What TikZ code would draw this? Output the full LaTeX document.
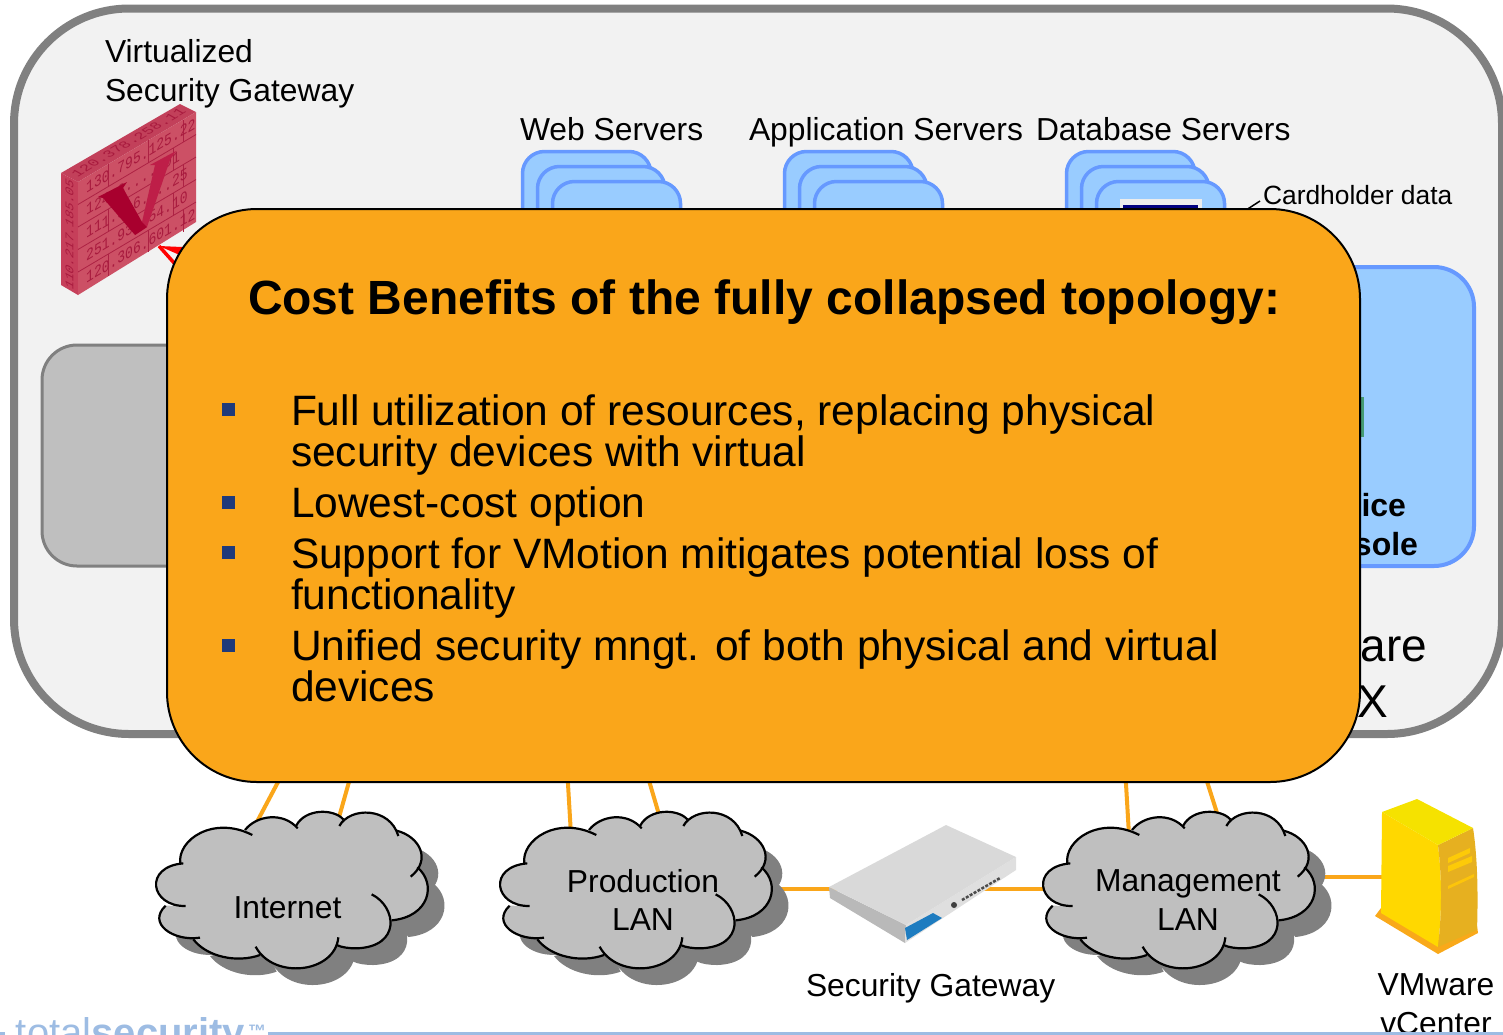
\documentclass[tikz,border=0pt]{standalone}
\usepackage{fontspec}
\setmainfont{Liberation Sans}
\newfontfamily\monofam{Liberation Mono}
\definecolor{frameGray}{HTML}{808080}
\definecolor{panelGray}{HTML}{F2F2F2}
\definecolor{midGray}{HTML}{BFBFBF}
\definecolor{skyFill}{HTML}{99CCFF}
\definecolor{skyLine}{HTML}{6699FF}
\definecolor{orangeBox}{HTML}{FAA61A}
\definecolor{bulletBlue}{HTML}{1F3A7A}
\definecolor{logoBlue}{HTML}{9DBCE3}
\definecolor{fwFront}{HTML}{CC5065}
\definecolor{fwTop}{HTML}{C2405A}
\definecolor{fwSide}{HTML}{C63F5A}
\definecolor{fwMark}{HTML}{A81A3E}
\definecolor{fwV}{HTML}{A8002E}
\definecolor{fwVlight}{HTML}{BE1E48}
\newcommand{\fs}[2]{\fontsize{#1}{#2}\selectfont}
\newcommand{\cloudoutline}{
 (541,372) .. controls (530,300) and (640,225) .. (757,285)
 -- (735,270) .. controls (770,225) and (850,215) .. (893,265)
 -- (888,258) .. controls (915,205) and (1000,205) .. (1030,238)
 -- (1018,258) .. controls (1050,200) and (1170,200) .. (1195,288)
 -- (1190,272) .. controls (1260,290) and (1295,360) .. (1232,410)
 -- (1252,382) .. controls (1310,430) and (1290,530) .. (1175,541)
 -- (1115,463) .. controls (1190,500) and (1205,620) .. (1070,625)
 .. controls (1045,625) and (1025,622) .. (1010,615)
 -- (1015,592) .. controls (1005,700) and (820,720) .. (767,620)
 -- (780,645) .. controls (710,670) and (620,650) .. (580,598)
 -- (600,593) .. controls (520,605) and (440,550) .. (497,497)
 -- (557,498) .. controls (450,500) and (430,380) .. (550,370) -- cycle}
\newcommand{\cloudshape}[1]{
 \begin{scope}[shift={(#1,740)},x=0.33333pt,y=-0.33333pt]
  \fill[frameGray,shift={(50,50)}] \cloudoutline;
  \fill[midGray] \cloudoutline;
  \begin{scope}[cloudarc]
   \draw (541,372) .. controls (530,300) and (640,225) .. (757,285);
   \draw (735,270) .. controls (770,225) and (850,215) .. (893,265);
   \draw (888,258) .. controls (915,205) and (1000,205) .. (1030,238);
   \draw (1018,258) .. controls (1050,200) and (1170,200) .. (1195,288);
   \draw (1190,272) .. controls (1260,290) and (1295,360) .. (1232,410);
   \draw (1252,382) .. controls (1310,430) and (1290,530) .. (1175,541);
   \draw (1115,463) .. controls (1190,500) and (1205,620) .. (1070,625) .. controls (1045,625) and (1025,622) .. (1010,615);
   \draw (1015,592) .. controls (1005,700) and (820,720) .. (767,620);
   \draw (780,645) .. controls (710,670) and (620,650) .. (580,598);
   \draw (600,593) .. controls (520,605) and (440,550) .. (497,497);
   \draw (557,498) .. controls (450,500) and (430,380) .. (550,370);
  \end{scope}
 \end{scope}}
\newcommand{\serverstack}[1]{
 \begin{scope}[shift={(#1,0)}]
  \draw[serverbox] (522.5,300) rectangle (651,151.5);
  \draw[serverbox] (537.5,300) rectangle (665,166.5);
  \draw[serverbox] (552.5,300) rectangle (680.5,181.5);
 \end{scope}}
\tikzset{
 x=1pt,y=-1pt,
 cloudarc/.style={draw=black,line width=2.2pt},
 serverbox/.style={draw=skyLine,fill=skyFill,line width=3.5pt,rounded corners=22pt},
 link/.style={draw=orangeBox,line width=4pt},
 lbl/.style={inner sep=0pt,outer sep=0pt,font=\fs{31.8}{38.5}},
 bulletitem/.style={inner sep=0pt,outer sep=0pt,align=left,anchor=north west,font=\fs{42.5}{41}},
 bulletmark/.style={fill=bulletBlue,minimum size=13pt,inner sep=0pt,outer sep=0pt},
 fwtext/.style={inner sep=0pt,transform shape,text=fwMark,font=\monofam\fs{13}{14}},
}
\begin{document}
\begin{tikzpicture}
\useasboundingbox (0,0) rectangle (1503,1034);
\clip (0,0) rectangle (1503,1034);
% outer host
\draw[draw=frameGray,fill=panelGray,line width=8pt,rounded corners=115pt] (14,8.5) rectangle (1502,734);
% inner panels
\draw[draw=frameGray,fill=midGray,line width=3pt,rounded corners=35pt] (42,345) rectangle (420,566);
\draw[draw=skyLine,fill=skyFill,line width=4pt,rounded corners=40pt] (1180,267) rectangle (1474,566);
\fill[green!45!black!55!skyFill] (1355,397) rectangle (1364,437);
\node[lbl,anchor=base east,font=\bfseries\fs{32}{38}] (svcA) at (1406,516) {ice};
\node[lbl,anchor=base east,font=\bfseries\fs{32}{38}] (svcB) at (1418,555) {sole};
\node[lbl,anchor=base east,font=\fs{46}{55}] (esxA) at (1427,661) {are};
\node[lbl,anchor=base east,font=\fs{46}{55}] (esxB) at (1388,717) {X};
% server stacks
\serverstack{0}
\serverstack{262}
\serverstack{544}
\fill[white!85!gray] (1120,199) rectangle (1202,240);
\fill[blue!50!black] (1123,205) rectangle (1198,240);
\node[lbl,anchor=base west] (vsg1) at (105,62) {Virtualized};
\node[lbl,anchor=base west] (vsg2) at (105,101) {Security Gateway};
\node[lbl,anchor=base west] (web) at (520,140) {Web Servers};
\node[lbl,anchor=base west] (app) at (749,140) {Application Servers};
\node[lbl,anchor=base west] (db) at (1036,140) {Database Servers};
\node[lbl,anchor=base west,font=\fs{26.4}{30}] (card) at (1263,204) {Cardholder data};
\coordinate (cardEnd) at (1260,201);
\coordinate (dbStore) at (1243,212);
\draw[line width=1.5pt] (cardEnd) -- (dbStore);
% red links from the virtual gateway
\coordinate (fwTip) at (159,246);
\coordinate (redA) at (205,248);
\coordinate (redC) at (205,266);
\coordinate (redB) at (200,292);
\fill[red] (fwTip) -- (redA) -- (redC) -- cycle;
\draw[red,line width=3.5pt] (fwTip) -- (redB);
% firewall
\fill[fwTop] (61,173) -- (180,104) -- (196,112) -- (78,182) -- cycle;
\fill[fwSide] (61,173) -- (78,182) -- (78,295) -- (61,285) -- cycle;
\begin{scope}[cm={1,0.593,0,1,(78pt,-182pt)}]
 \fill[fwFront] (0,0) -- (118,0) -- (118,110) -- (0,113) -- cycle;
 \foreach \v in {22.5,45,67.5,90}
  \draw[fwMark!85!fwFront,line width=.8pt] (0,\v) -- (118,\v);
 \foreach \u/\a/\b in {30/0/22.5,70/0/22.5,105/0/22.5,95/22.5/45,30/45/67.5,105/45/67.5,95/67.5/90,30/90/112,70/90/112,105/90/112}
  \draw[fwMark!85!fwFront,line width=.8pt] (\u,\a) -- (\u,\b);
 \node[fwtext,anchor=west,yscale=1.25] (fwR1) at (8,11) {130.795.125.22};
 \node[fwtext,anchor=west,yscale=1.25] (fwR2) at (8,33.5) {124.3.....01};
 \node[fwtext,anchor=west,yscale=1.25] (fwR3) at (8,56) {111.5.6....25};
 \node[fwtext,anchor=west,yscale=1.25] (fwR4) at (8,78.5) {251.93..54.10};
 \node[fwtext,anchor=west,yscale=1.25] (fwR5) at (8,101) {120.306.601.12};
\end{scope}
\begin{scope}[cm={1,0.593,-0.9,0.5,(128.5pt,-142.5pt)}]
 \node[fwtext] (fwTopTxt) at (0,0) {120.378.258.11};
\end{scope}
\begin{scope}[cm={0,1,-0.9,0.5,(69.5pt,-234pt)}]
 \node[fwtext] (fwSideTxt) at (0,0) {110.217.185.05};
\end{scope}
\fill[fwVlight] (142,222) -- (155,165) -- (150,165) -- (176,151) -- (170,160) -- (147,227) -- (135,235) -- cycle;
\fill[fwV] (98,197) -- (127,182) -- (123,188) -- (142,222) -- (147,227) -- (135,235) -- (103,198) -- cycle;
% connectors
\coordinate (hostA) at (295,750);
\coordinate (hostB) at (358,750);
\coordinate (hostC) at (566,750);
\coordinate (hostD) at (640,750);
\coordinate (hostE) at (1124,750);
\coordinate (hostF) at (1197,750);
\coordinate (inetA) at (250,835);
\coordinate (inetB) at (334,835);
\coordinate (prodA) at (571,835);
\coordinate (prodB) at (665,835);
\coordinate (mgmtA) at (1129,835);
\coordinate (mgmtB) at (1224,835);
\coordinate (prodR) at (770,889);
\coordinate (gateL) at (860,889);
\coordinate (gateR) at (980,889);
\coordinate (mgmtL) at (1060,889);
\coordinate (mgmtR) at (1310,877);
\coordinate (vcL) at (1390,877);
\draw[link] (hostA) -- (inetA);
\draw[link] (hostB) -- (inetB);
\draw[link] (hostC) -- (prodA);
\draw[link] (hostD) -- (prodB);
\draw[link] (hostE) -- (mgmtA);
\draw[link] (hostF) -- (mgmtB);
\draw[link] (prodR) -- (gateL);
\draw[link] (gateR) -- (mgmtL);
\draw[link] (mgmtR) -- (vcL);
% clouds
\cloudshape{0}
\cloudshape{344}
\cloudshape{887}
\node[lbl,anchor=base] (internet) at (287.5,918.5) {Internet};
\node[lbl,align=center] (prodlan) at (643,900) {Production\\LAN};
\node[lbl,align=center] (mgmtlan) at (1188,900) {Management\\LAN};
% gateway appliance
\fill[gray!55] (829,887) -- (906,925) -- (905,943) -- (830,898) -- cycle;
\fill[gray!25] (906,925) -- (1016,857) -- (1016,870) -- (905,943) -- cycle;
\fill[gray!30] (829,887) -- (946,825) -- (1016,857) -- (906,925) -- cycle;
\definecolor{badgeBlue}{HTML}{1E7CC0}
\fill[badgeBlue] (905,928) -- (933,913) -- (942,918) -- (907,940) -- cycle;
\fill[black!75] (954,905) circle (3pt);
\draw[black!70,line width=2.5pt,dash pattern=on 3pt off 1.5pt] (962,900) -- (1000,878);
\node[lbl,anchor=base west] (gatelbl) at (806,996) {Security Gateway};
% vCenter server
\definecolor{vcFront}{HTML}{FFD800}
\definecolor{vcTop}{HTML}{F5E200}
\definecolor{vcSide}{HTML}{E6B020}
\definecolor{vcBase}{HTML}{F9A91A}
\fill[vcBase] (1375,916) -- (1438,954) -- (1478,933) -- (1477,926) -- (1438,940) -- (1381,908) -- cycle;
\fill[vcFront] (1382,812) -- (1438,845) .. controls (1442,880) and (1442,910) .. (1438,947) -- (1381,913) -- cycle;
\fill[vcSide] (1438,845) -- (1473,828) .. controls (1478,860) and (1478,900) .. (1477,930) -- (1438,947) .. controls (1442,910) and (1442,880) .. (1438,845) -- cycle;
\fill[vcTop] (1382,812) -- (1417,799) -- (1473,828) -- (1438,845) -- cycle;
\fill[vcFront!70!vcBase] (1448,858) -- (1470,848) -- (1470,853) -- (1448,863) -- cycle;
\fill[vcFront!70!vcBase] (1448,866) -- (1472,856) -- (1472,862) -- (1448,872) -- cycle;
\fill[vcFront!60!vcBase] (1448,886) -- (1474,874) -- (1474,877) -- (1448,889) -- cycle;
\node[lbl,align=center] (vclbl) at (1436,1004) {VMware\\vCenter};
% logo
\node[lbl,anchor=base west,text=logoBlue,font=\fs{40}{44}] (logo) at (16,1046) {total\textbf{security}};
\node[lbl,anchor=base west,text=logoBlue,font=\bfseries\fs{18}{20}] (tm) at (248,1037) {™};
\coordinate (ruleA) at (268,1033);
\coordinate (ruleB) at (1503,1033);
\coordinate (dashA) at (0,1033);
\coordinate (dashB) at (5,1033);
\draw[logoBlue,line width=3pt] (ruleA) -- (ruleB);
\draw[logoBlue,line width=3pt] (dashA) -- (dashB);
% overlay
\node[draw=black,fill=orangeBox,line width=2pt,rounded corners=90pt,minimum width=1193pt,minimum height=573pt,inner sep=0pt,outer sep=0pt] (overlay) at (763.5,495.5) {};
\node[lbl,anchor=base west,font=\bfseries\fs{48}{52}] (title) at (248,314.5) {Cost Benefits of the fully collapsed topology:};
\node[bulletitem] (b1) at (291,394.5) {Full utilization of resources, replacing physical\\security devices with virtual};
\node[bulletitem] (b2) at (291,486.5) {Lowest-cost option};
\node[bulletitem] (b3) at (291,537.5) {Support for VMotion mitigates potential loss of\\functionality};
\node[bulletitem] (b4) at (291,629.5) {Unified security mngt. of both physical and virtual\\devices};
\node[bulletmark] (m1) at (228.5,409) {};
\node[bulletmark] (m2) at (228.5,502) {};
\node[bulletmark] (m3) at (228.5,552) {};
\node[bulletmark] (m4) at (228.5,645) {};
\end{tikzpicture}
\end{document}
